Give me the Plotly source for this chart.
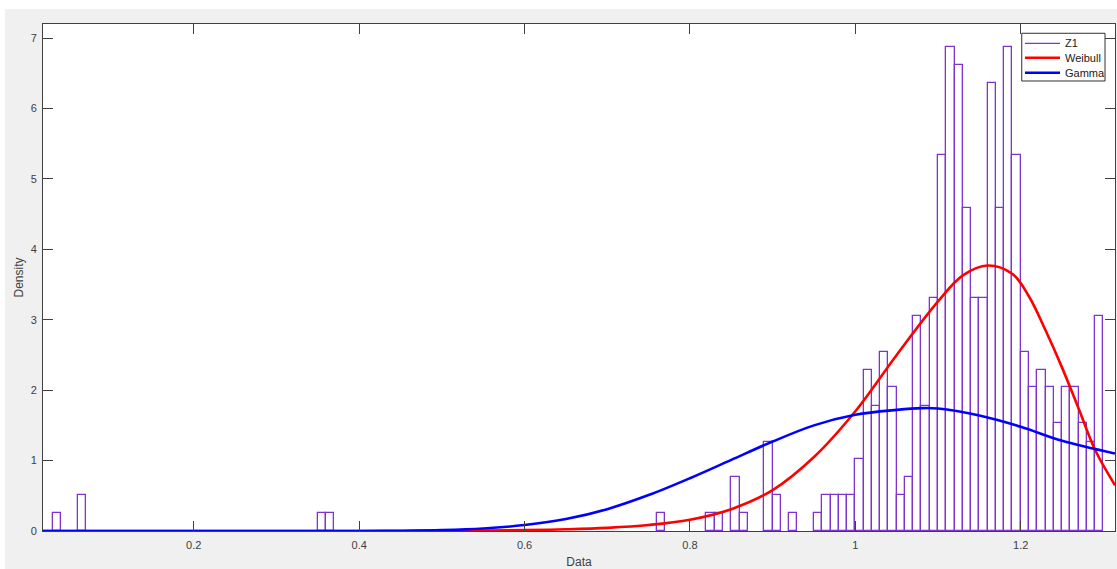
import plotly.graph_objects as go

# ---- data ----
bin_left = [0.03, 0.06, 0.35, 0.36, 0.76, 0.82, 0.83, 0.85, 0.86, 0.89, 0.90, 0.92,
            0.95, 0.96, 0.97, 0.98, 0.99, 1.00, 1.01, 1.02, 1.03, 1.04, 1.05, 1.06,
            1.07, 1.08, 1.09, 1.10, 1.11, 1.12, 1.13, 1.14, 1.15, 1.16, 1.17, 1.18,
            1.19, 1.20, 1.21, 1.22, 1.23, 1.24, 1.25, 1.26, 1.27, 1.28, 1.29]
density = [0.25, 0.51, 0.25, 0.25, 0.25, 0.25, 0.25, 0.76, 0.25, 1.27, 0.51, 0.25,
           0.25, 0.51, 0.51, 0.51, 0.51, 1.02, 2.29, 1.78, 2.54, 2.04, 0.51, 0.76,
           3.05, 1.78, 3.31, 5.34, 6.87, 6.62, 4.58, 3.31, 3.31, 6.36, 4.58, 6.87,
           5.34, 2.54, 2.04, 2.29, 2.04, 1.53, 2.04, 2.04, 1.53, 1.27, 3.05]
bin_width = 0.01

weibull_x = [0.0177, 0.30, 0.45, 0.50, 0.55, 0.60, 0.65, 0.70, 0.75, 0.80, 0.85,
             0.90, 0.95, 1.00, 1.05, 1.10, 1.13, 1.16, 1.19, 1.21, 1.23, 1.25,
             1.27, 1.29, 1.314]
weibull_y = [0.0, 0.0, 0.0, 0.002, 0.005, 0.012, 0.024, 0.045, 0.085, 0.16, 0.31,
             0.58, 1.05, 1.70, 2.50, 3.26, 3.63, 3.77, 3.65, 3.33, 2.85, 2.32,
             1.74, 1.15, 0.65]

gamma_x = [0.0177, 0.30, 0.40, 0.45, 0.50, 0.55, 0.60, 0.65, 0.70, 0.75, 0.80,
           0.85, 0.90, 0.95, 1.00, 1.05, 1.08, 1.10, 1.15, 1.20, 1.25, 1.314]
gamma_y = [0.0, 0.0, 0.0, 0.003, 0.012, 0.035, 0.085, 0.17, 0.31, 0.51, 0.75,
           1.01, 1.27, 1.50, 1.65, 1.72, 1.745, 1.74, 1.64, 1.48, 1.28, 1.10]

x_tickvals = [0.2, 0.4, 0.6, 0.8, 1.0, 1.2]
x_ticktext = ["0.2", "0.4", "0.6", "0.8", "1", "1.2"]
y_tickvals = [0, 1, 2, 3, 4, 5, 6, 7]
y_ticktext = ["0", "1", "2", "3", "4", "5", "6", "7"]

legend_names = ["Z1", "Weibull", "Gamma"]

PURPLE = "rgb(126,52,208)"
RED = "#FF0000"
BLUE = "#0000FF"
AX = "#404040"
FONT = "Liberation Sans, Arial, sans-serif"

fig = go.Figure()
fig.add_trace(go.Bar(
    x=bin_left, y=density, width=bin_width, offset=0,
    marker=dict(color="white", line=dict(color=PURPLE, width=1.3)),
    name=legend_names[0],
))
fig.add_trace(go.Scatter(
    x=weibull_x, y=weibull_y, mode="lines", name=legend_names[1],
    line=dict(color=RED, width=2.6, shape="spline", smoothing=1.0),
))
fig.add_trace(go.Scatter(
    x=gamma_x, y=gamma_y, mode="lines", name=legend_names[2],
    line=dict(color=BLUE, width=2.6, shape="spline", smoothing=1.0),
))

axis_common = dict(
    showline=True, linecolor=AX, linewidth=1, mirror="ticks",
    ticks="inside", ticklen=10, tickcolor=AX, tickwidth=1,
    showgrid=False, zeroline=False,
    tickfont=dict(family=FONT, size=11, color=AX),
)

# MATLAB-style compact legend (box, line samples, labels) in paper coordinates
leg_box = dict(x0=0.9130, x1=0.9907, y0=0.8876, y1=0.9817)
leg_line_x = (0.9160, 0.9487)
leg_text_x = 0.9515
leg_rows_y = [0.9619, 0.9335, 0.9039]
leg_styles = [(PURPLE, 1.3), (RED, 2.6), (BLUE, 2.6)]

shapes = [
    dict(type="rect", xref="paper", yref="paper", x0=-0.05, x1=1.01, y0=1.0296, y1=1.06,
         fillcolor="white", line=dict(width=0), layer="above"),
    dict(type="rect", xref="paper", yref="paper", x0=-0.05, x1=-0.0354, y0=-0.1, y1=1.06,
         fillcolor="white", line=dict(width=0), layer="above"),
    dict(type="rect", xref="paper", yref="paper", fillcolor="white",
         line=dict(color="#303030", width=1), layer="above", **leg_box),
]
annotations = []
for name, yy, (col, w) in zip(legend_names, leg_rows_y, leg_styles):
    shapes.append(dict(type="line", xref="paper", yref="paper",
                       x0=leg_line_x[0], x1=leg_line_x[1], y0=yy, y1=yy,
                       line=dict(color=col, width=w), layer="above"))
    annotations.append(dict(xref="paper", yref="paper", x=leg_text_x, y=yy,
                            xanchor="left", yanchor="middle", text=name, showarrow=False,
                            font=dict(family=FONT, size=11, color="#202020")))

fig.update_layout(
    width=1117, height=569,
    margin=dict(l=43, r=2, t=24, b=38),
    paper_bgcolor="#F0F0F0", plot_bgcolor="white",
    bargap=0, showlegend=False,
    font=dict(family=FONT, size=11, color=AX),
    xaxis=dict(range=[0.0177, 1.314], tickvals=x_tickvals, ticktext=x_ticktext,
               title=dict(text="Data", font=dict(family=FONT, size=12, color=AX), standoff=8),
               ticklabelstandoff=4, **axis_common),
    yaxis=dict(range=[0, 7.2], tickvals=y_tickvals, ticktext=y_ticktext,
               title=dict(text="Density", font=dict(family=FONT, size=12, color=AX), standoff=4),
               ticklabelstandoff=3, **axis_common),
    shapes=shapes,
    annotations=annotations,
)

fig.write_html("out.html")
